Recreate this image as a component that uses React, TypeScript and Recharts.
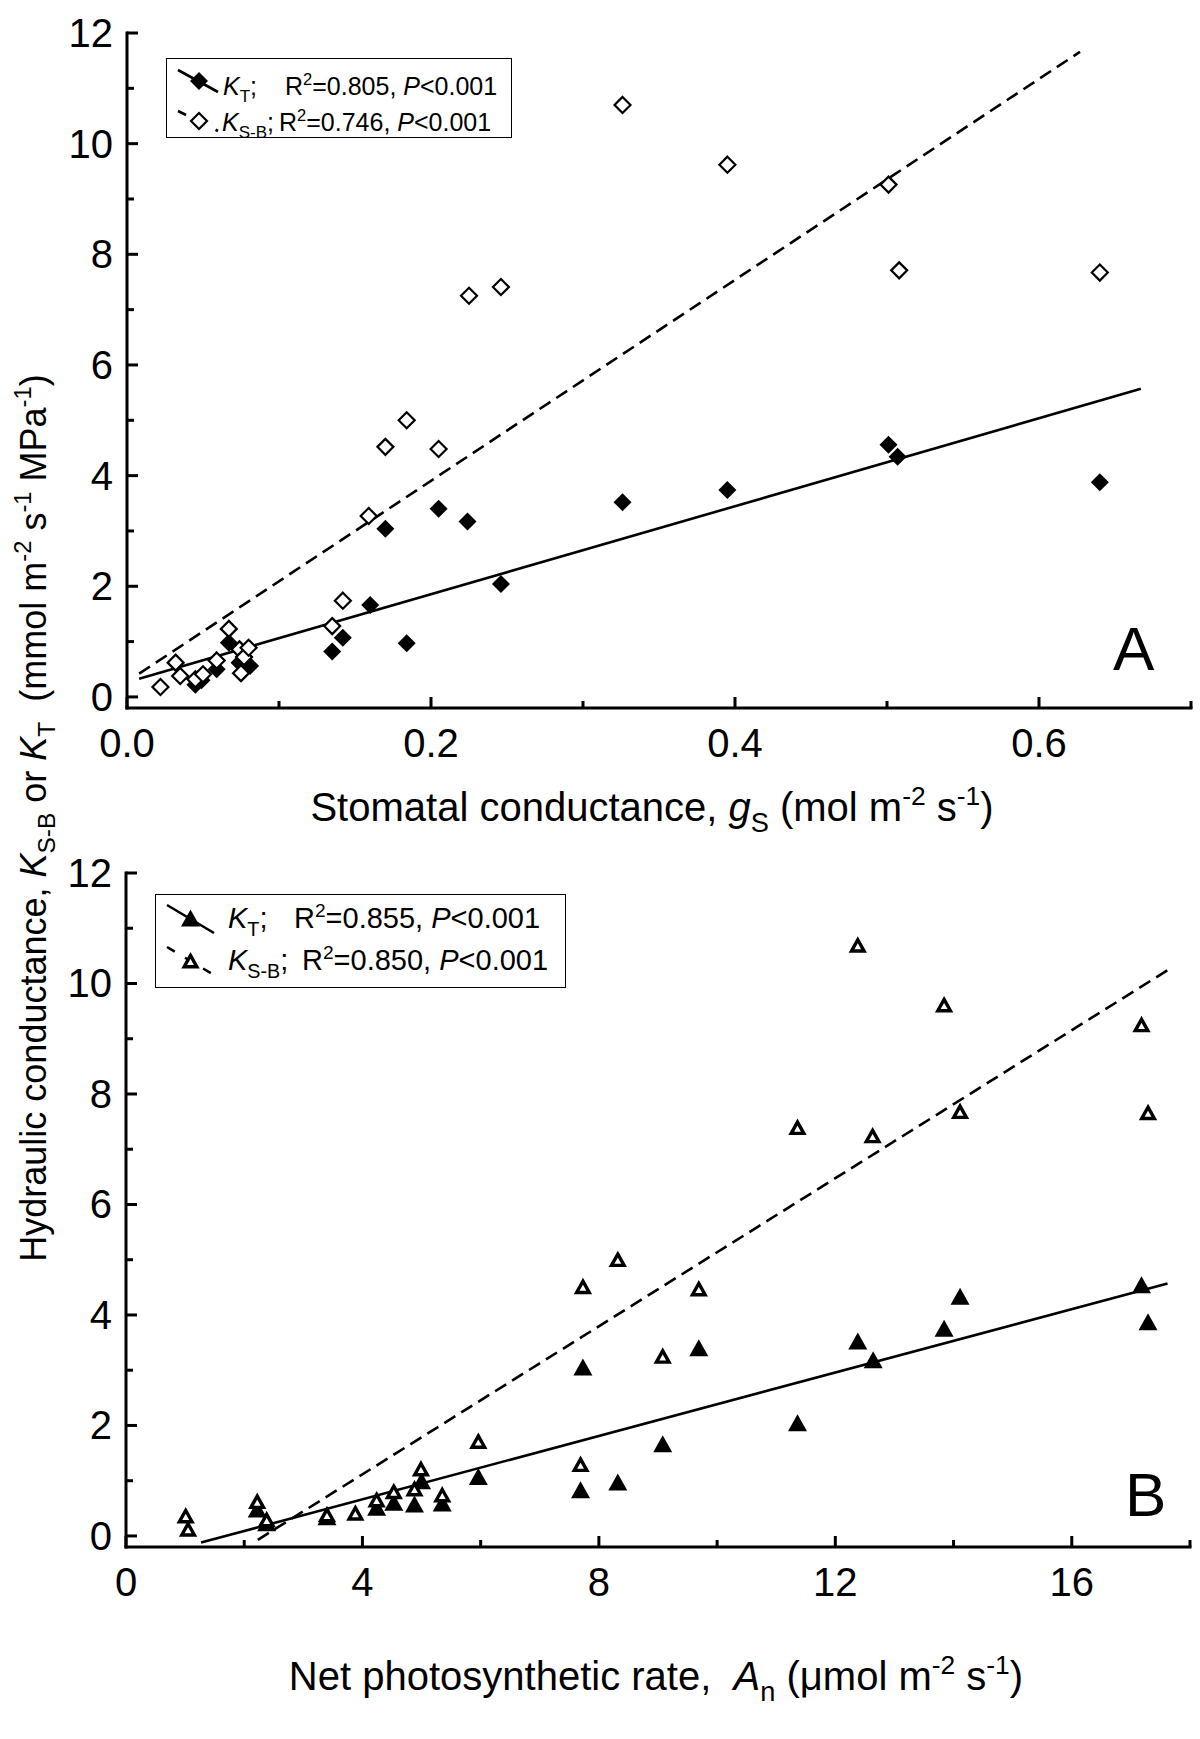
import React from "react";
import { Scatter, ScatterChart, XAxis, YAxis } from "recharts";

// Panel A: hydraulic conductance vs stomatal conductance (gs, mol m-2 s-1)
const gsForKT = [0.045, 0.049, 0.059, 0.067, 0.074, 0.081, 0.135, 0.142, 0.16, 0.17, 0.184, 0.205, 0.224, 0.246, 0.326, 0.395, 0.501, 0.507, 0.64];
const kTvsGs = [0.22, 0.3, 0.5, 0.98, 0.62, 0.56, 0.82, 1.07, 1.66, 3.04, 0.97, 3.4, 3.17, 2.04, 3.52, 3.74, 4.56, 4.34, 3.88];
const gsForKSB = [0.022, 0.032, 0.035, 0.045, 0.05, 0.059, 0.067, 0.074, 0.075, 0.077, 0.08, 0.135, 0.142, 0.159, 0.17, 0.184, 0.205, 0.225, 0.246, 0.326, 0.395, 0.501, 0.508, 0.64];
const kSBvsGs = [0.18, 0.62, 0.38, 0.32, 0.41, 0.66, 1.23, 0.86, 0.43, 0.72, 0.89, 1.28, 1.74, 3.27, 4.52, 5.0, 4.48, 7.25, 7.41, 10.7, 9.62, 9.26, 7.71, 7.67];

// Panel B: hydraulic conductance vs net photosynthetic rate (An, umol m-2 s-1)
const anForKT = [2.22, 2.38, 3.4, 4.24, 4.53, 4.88, 5.0, 5.35, 5.96, 7.69, 7.73, 8.32, 9.08, 9.69, 11.36, 12.38, 12.64, 13.84, 14.11, 17.18, 17.29];
const kTvsAn = [0.47, 0.22, 0.33, 0.5, 0.59, 0.56, 0.98, 0.58, 1.06, 0.82, 3.04, 0.96, 1.65, 3.39, 2.03, 3.51, 3.17, 3.74, 4.32, 4.53, 3.86];
const anForKSB = [1.01, 1.05, 2.22, 2.38, 3.4, 3.88, 4.24, 4.53, 4.88, 4.99, 5.35, 5.96, 7.69, 7.73, 8.32, 9.08, 9.69, 11.36, 12.38, 12.63, 13.84, 14.11, 17.18, 17.29];
const kSBvsAn = [0.36, 0.12, 0.62, 0.29, 0.38, 0.41, 0.65, 0.8, 0.85, 1.21, 0.74, 1.71, 1.29, 4.51, 5.0, 3.25, 4.47, 7.39, 10.69, 7.24, 9.61, 7.68, 9.25, 7.66];

// regression line end points
const fitA_KT_x = [0.008, 0.667];
const fitA_KT_y = [0.33, 5.57];
const fitA_KSB_x = [0.008, 0.627];
const fitA_KSB_y = [0.42, 11.66];
const fitB_KT_x = [1.27, 17.62];
const fitB_KT_y = [-0.12, 4.57];
const fitB_KSB_x = [2.23, 17.62];
const fitB_KSB_y = [-0.07, 10.24];

// axis ticks (empty label = minor tick)
const gsTicks = [0, 0.1, 0.2, 0.3, 0.4, 0.5, 0.6, 0.7];
const gsLabels = ["0.0", "", "0.2", "", "0.4", "", "0.6", ""];
const anTicks = [0, 2, 4, 6, 8, 10, 12, 14, 16, 18];
const anLabels = ["0", "", "4", "", "8", "", "12", "", "16", ""];
const kTicks = [0, 1, 2, 3, 4, 5, 6, 7, 8, 9, 10, 11, 12];
const kLabels = ["0", "", "2", "", "4", "", "6", "", "8", "", "10", "", "12"];

const FONT = "'Liberation Sans', Arial, Helvetica, sans-serif";
const INK = "#000";

const zip = (xs: number[], ys: number[]) => xs.map((x, i) => ({ x, y: ys[i] }));

const lenFor = (label: string) => (label ? 11 : 7);
const labelAt = (ticks: number[], labels: string[], v: number) => labels[ticks.indexOf(v)] ?? "";

const bottomTick = (ticks: number[], labels: string[]) => (p: any) => {
  const lab = labelAt(ticks, labels, p.payload.value);
  return (
    <g>
      <line x1={p.x} y1={p.y} x2={p.x} y2={p.y - lenFor(lab)} stroke={INK} strokeWidth={3} />
      {lab && (
        <text x={p.x} y={p.y + 49} textAnchor="middle" fontSize={40} fontFamily={FONT} fill={INK}>
          {lab}
        </text>
      )}
    </g>
  );
};

const topTick = (ticks: number[], labels: string[]) => (p: any) => {
  const lab = labelAt(ticks, labels, p.payload.value);
  return <line x1={p.x} y1={p.y} x2={p.x} y2={p.y + lenFor(lab)} stroke={INK} strokeWidth={3} />;
};

const leftTick = (p: any) => {
  const lab = labelAt(kTicks, kLabels, p.payload.value);
  return (
    <g>
      <line x1={p.x} y1={p.y} x2={p.x + lenFor(lab)} y2={p.y} stroke={INK} strokeWidth={3} />
      {lab && (
        <text x={p.x - 14} y={p.y + 14} textAnchor="end" fontSize={40} fontFamily={FONT} fill={INK}>
          {lab}
        </text>
      )}
    </g>
  );
};

const rightTick = (p: any) => {
  const lab = labelAt(kTicks, kLabels, p.payload.value);
  return <line x1={p.x} y1={p.y} x2={p.x - lenFor(lab)} y2={p.y} stroke={INK} strokeWidth={3} />;
};

function diamondPath(cx: number, cy: number, r: number) {
  return `M${cx},${cy - r}L${cx + r},${cy}L${cx},${cy + r}L${cx - r},${cy}Z`;
}

const FilledDiamond = (p: any) => <path d={diamondPath(p.cx, p.cy, 9)} fill={INK} />;
const OpenDiamond = (p: any) => (
  <path d={diamondPath(p.cx, p.cy, 8)} fill="#fff" stroke={INK} strokeWidth={2.2} />
);
const FilledTriangle = (p: any) => (
  <path d={`M${p.cx},${p.cy - 9.5}L${p.cx + 9.5},${p.cy + 7.5}L${p.cx - 9.5},${p.cy + 7.5}Z`} fill={INK} />
);
const OpenTriangle = (p: any) => (
  <path
    d={`M${p.cx},${p.cy - 5.6}L${p.cx + 6.3},${p.cy + 5.7}L${p.cx - 6.3},${p.cy + 5.7}Z`}
    fill="#fff"
    stroke={INK}
    strokeWidth={3.4}
    strokeLinejoin="miter"
  />
);
const NoMark = () => <g />;

const frameLine = { stroke: INK, strokeWidth: 3, strokeLinecap: "square" as const };
const solidFit = { stroke: INK, strokeWidth: 2.6 };
const dashFit = { stroke: INK, strokeWidth: 2.6, strokeDasharray: "13 7" };

interface PanelProps {
  top: number;
  margin: { top: number; right: number; bottom: number; left: number };
  xDomain: [number, number];
  xTicks: number[];
  xLabels: string[];
  fitSolid: { x: number; y: number }[];
  fitDash: { x: number; y: number }[];
  filled: { x: number; y: number }[];
  open: { x: number; y: number }[];
  FilledShape: (p: any) => React.ReactElement;
  OpenShape: (p: any) => React.ReactElement;
}

function Panel(props: PanelProps) {
  const { xDomain, xTicks, xLabels } = props;
  return (
    <div style={{ position: "absolute", left: 0, top: props.top }}>
      <ScatterChart width={1200} height={780} margin={props.margin}>
        <XAxis
          xAxisId="x"
          dataKey="x"
          type="number"
          domain={xDomain}
          ticks={xTicks}
          interval={0}
          height={60}
          tickSize={0}
          tickMargin={0}
          tickLine={false}
          axisLine={frameLine}
          tick={bottomTick(xTicks, xLabels)}
        />
        <XAxis
          xAxisId="top"
          orientation="top"
          type="number"
          domain={xDomain}
          allowDataOverflow
          ticks={xTicks}
          interval={0}
          height={0}
          tickSize={0}
          tickMargin={0}
          tickLine={false}
          axisLine={frameLine}
          tick={topTick(xTicks, xLabels)}
        />
        <YAxis
          yAxisId="y"
          dataKey="y"
          type="number"
          domain={[-0.2, 12]}
          ticks={kTicks}
          interval={0}
          width={60}
          tickSize={0}
          tickMargin={0}
          tickLine={false}
          axisLine={frameLine}
          tick={leftTick}
        />
        <YAxis
          yAxisId="right"
          orientation="right"
          type="number"
          domain={[-0.2, 12]}
          allowDataOverflow
          ticks={kTicks}
          interval={0}
          width={0}
          tickSize={0}
          tickMargin={0}
          tickLine={false}
          axisLine={frameLine}
          tick={rightTick}
        />
        <Scatter xAxisId="x" yAxisId="y" data={props.fitSolid} line={solidFit} shape={NoMark} isAnimationActive={false} />
        <Scatter xAxisId="x" yAxisId="y" data={props.fitDash} line={dashFit} shape={NoMark} isAnimationActive={false} />
        <Scatter xAxisId="x" yAxisId="y" data={props.filled} shape={props.FilledShape} isAnimationActive={false} />
        <Scatter xAxisId="x" yAxisId="y" data={props.open} shape={props.OpenShape} isAnimationActive={false} />
      </ScatterChart>
    </div>
  );
}

// lineHeight 0 keeps sub/superscripts from pushing the baseline around
const subS: React.CSSProperties = { fontSize: "0.68em", verticalAlign: "-0.4em", fontStyle: "normal", lineHeight: 0 };
const supS: React.CSSProperties = { fontSize: "0.66em", verticalAlign: "0.6em", fontStyle: "normal", lineHeight: 0 };

function Txt(props: { left: number; top: number; size: number; center?: boolean; children: React.ReactNode }) {
  return (
    <div
      style={{
        position: "absolute",
        left: props.left,
        top: props.top,
        fontSize: props.size,
        lineHeight: `${props.size * 1.2}px`,
        fontFamily: FONT,
        color: INK,
        whiteSpace: "nowrap",
        transform: props.center ? "translateX(-50%)" : undefined,
      }}
    >
      {props.children}
    </div>
  );
}

// text whose cap centre sits at cy
const rowTop = (cy: number, size: number) => cy - 0.588 * size;
// text whose baseline sits at by
const baseTop = (by: number, size: number) => by - 0.9465 * size;

function LegendSample(props: { x: number; y: number; w: number; h: number; dashed: boolean; children: React.ReactNode }) {
  return (
    <svg style={{ position: "absolute", left: props.x, top: props.y, overflow: "visible" }} width={props.w} height={props.h}>
      <line
        x1={0}
        y1={0}
        x2={props.w}
        y2={props.h}
        stroke={INK}
        strokeWidth={2.6}
        strokeDasharray={props.dashed ? "9 12" : undefined}
      />
      {props.children}
    </svg>
  );
}

function LegendA() {
  const fs = 25;
  return (
    <>
      <div style={{ position: "absolute", left: 166, top: 58, width: 346, height: 80, border: "1.5px solid #000", boxSizing: "border-box", background: "#fff" }} />
      <LegendSample x={178} y={70} w={40} h={22} dashed={false}>
        <FilledDiamond cx={21} cy={11} />
      </LegendSample>
      <LegendSample x={178} y={111} w={40} h={20} dashed>
        <OpenDiamond cx={21} cy={10} />
      </LegendSample>
      <Txt left={223} top={rowTop(86, fs)} size={fs}>
        <i>K</i><span style={subS}>T</span>;
      </Txt>
      <Txt left={285} top={rowTop(86, fs)} size={fs}>
        R<span style={supS}>2</span>=0.805, <i>P</i>&lt;0.001
      </Txt>
      <Txt left={222} top={rowTop(122, fs)} size={fs}>
        <i>K</i><span style={subS}>S-B</span>;
      </Txt>
      <Txt left={279} top={rowTop(122, fs)} size={fs}>
        R<span style={supS}>2</span>=0.746, <i>P</i>&lt;0.001
      </Txt>
    </>
  );
}

function LegendB() {
  const fs = 29;
  return (
    <>
      <div style={{ position: "absolute", left: 155, top: 894, width: 411, height: 94, border: "1.5px solid #000", boxSizing: "border-box", background: "#fff" }} />
      <LegendSample x={167} y={905} w={47} h={28} dashed={false}>
        <FilledTriangle cx={23.5} cy={14} />
      </LegendSample>
      <LegendSample x={167} y={947} w={47} h={28} dashed>
        <OpenTriangle cx={23.5} cy={14} />
      </LegendSample>
      <Txt left={228} top={rowTop(918, fs)} size={fs}>
        <i>K</i><span style={subS}>T</span>;
      </Txt>
      <Txt left={294} top={rowTop(918, fs)} size={fs}>
        R<span style={supS}>2</span>=0.855, <i>P</i>&lt;0.001
      </Txt>
      <Txt left={228} top={rowTop(960, fs)} size={fs}>
        <i>K</i><span style={subS}>S-B</span>;
      </Txt>
      <Txt left={302} top={rowTop(960, fs)} size={fs}>
        R<span style={supS}>2</span>=0.850, <i>P</i>&lt;0.001
      </Txt>
    </>
  );
}

export default function App() {
  const titleSize = 40;
  return (
    <div style={{ position: "absolute", left: 0, top: 0, width: 1200, height: 1739, background: "#fff", overflow: "hidden" }}>
      <Panel
        top={0}
        margin={{ top: 33, right: 9, bottom: 12, left: 67 }}
        xDomain={[0, 0.7]}
        xTicks={gsTicks}
        xLabels={gsLabels}
        fitSolid={zip(fitA_KT_x, fitA_KT_y)}
        fitDash={zip(fitA_KSB_x, fitA_KSB_y)}
        filled={zip(gsForKT, kTvsGs)}
        open={zip(gsForKSB, kSBvsGs)}
        FilledShape={FilledDiamond}
        OpenShape={OpenDiamond}
      />
      <Panel
        top={840}
        margin={{ top: 33, right: 10, bottom: 13, left: 66 }}
        xDomain={[0, 18]}
        xTicks={anTicks}
        xLabels={anLabels}
        fitSolid={zip(fitB_KT_x, fitB_KT_y)}
        fitDash={zip(fitB_KSB_x, fitB_KSB_y)}
        filled={zip(anForKT, kTvsAn)}
        open={zip(anForKSB, kSBvsAn)}
        FilledShape={FilledTriangle}
        OpenShape={OpenTriangle}
      />

      <LegendA />
      <LegendB />

      <Txt left={1113} top={baseTop(671, 62)} size={62}>A</Txt>
      <Txt left={1125} top={baseTop(1517, 62)} size={62}>B</Txt>

      <Txt left={652} top={baseTop(821, titleSize)} size={titleSize} center>
        Stomatal conductance, <i>g</i><span style={subS}>S</span> (mol m<span style={supS}>-2</span> s<span style={supS}>-1</span>)
      </Txt>
      <Txt left={656} top={baseTop(1690, titleSize)} size={titleSize} center>
        Net photosynthetic rate,&nbsp; <i>A</i><span style={subS}>n</span> (μmol m<span style={supS}>-2</span> s<span style={supS}>-1</span>)
      </Txt>

      <div
        style={{
          position: "absolute",
          left: 33,
          top: 818,
          transform: "translate(-50%, -50%) rotate(-90deg)",
          fontSize: 36,
          lineHeight: "43px",
          fontFamily: FONT,
          color: INK,
          whiteSpace: "nowrap",
        }}
      >
        Hydraulic conductance, <i>K</i><span style={subS}>S-B</span> or <i>K</i><span style={subS}>T</span>&nbsp; (mmol m<span style={supS}>-2</span> s<span style={supS}>-1</span> MPa<span style={supS}>-1</span>)
      </div>
    </div>
  );
}
